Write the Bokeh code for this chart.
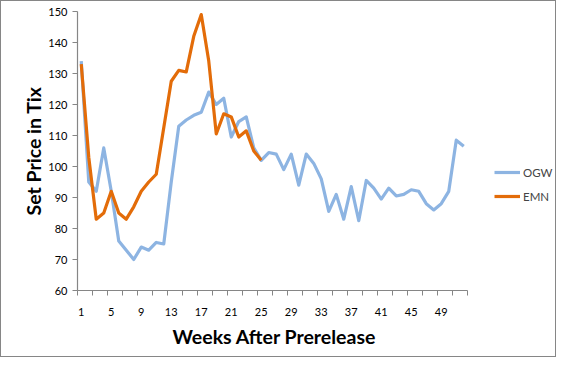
from bokeh.plotting import figure
from bokeh.models import FixedTicker, Range1d, Legend, LegendItem, ColumnDataSource, Title
from bokeh.embed import file_html
from bokeh.resources import INLINE

weeks = list(range(1, 53))
ogw = [134, 95, 92, 106, 92, 76, 73, 70, 74, 73, 75.5, 75, 95, 113, 115, 116.5,
       117.5, 124, 120, 122, 109.5, 114.5, 116, 106, 102, 104.5, 104, 99, 104, 94,
       104, 101, 96, 85.5, 91, 83, 93.5, 82.5, 95.5, 93, 89.5, 93, 90.5, 91, 92.5,
       92, 88, 86, 88, 92, 108.5, 106.5]
emn = [133, 103, 83, 85, 92, 85, 83, 87, 92, 95, 97.5, 112.5, 127.5, 131, 130.5,
       142, 149, 134, 110.5, 117, 116, 109.5, 111.5, 105, 102]
x_labels = [1, 5, 9, 13, 17, 21, 25, 29, 33, 37, 41, 45, 49]
y_ticks = [60, 70, 80, 90, 100, 110, 120, 130, 140, 150]

BLUE = "#8DB4E2"
ORANGE = "#E36C09"
AXIS = "#868686"
FONT = "Lato"

W, H = 556, 357
LEFT, RIGHT, TOP, BOTTOM = 76, 2, 10, 68
PX_PER_WEEK = 7.5
frame_w = W - LEFT - RIGHT
x_end = 0.5 + frame_w / PX_PER_WEEK

p = figure(width=W, height=H, output_backend="svg", toolbar_location=None,
           x_range=Range1d(0.5, x_end), y_range=Range1d(60, 150),
           min_border_left=LEFT, min_border_right=RIGHT, min_border_top=TOP,
           min_border_bottom=BOTTOM)
p.styles = {"border": "1px solid #868686"}
p.outline_line_color = None
p.grid.visible = False
p.background_fill_color = "white"

src_o = ColumnDataSource(dict(x=weeks, y=ogw))
src_e = ColumnDataSource(dict(x=weeks[:len(emn)], y=emn))
r1 = p.line("x", "y", source=src_o, line_color=BLUE, line_width=3.2, line_join="round")
r2 = p.line("x", "y", source=src_e, line_color=ORANGE, line_width=3.2, line_join="round")

bounds = [b + 0.5 for b in range(0, 53, 2)]
p.xaxis.bounds = (0.5, 52.5)
p.xaxis.ticker = FixedTicker(ticks=x_labels, minor_ticks=bounds)
p.xaxis.major_tick_line_color = None
p.xaxis.minor_tick_line_color = AXIS
p.xaxis.minor_tick_out = 5
p.xaxis.minor_tick_in = 0
p.xaxis.major_label_standoff = 11

p.yaxis.ticker = FixedTicker(ticks=y_ticks)
p.yaxis.minor_tick_line_color = None
p.yaxis.major_tick_line_color = AXIS
p.yaxis.major_tick_out = 5
p.yaxis.major_tick_in = 0
p.yaxis.major_label_standoff = 5

for ax in (p.xaxis, p.yaxis):
    ax.axis_line_color = AXIS
    ax.axis_line_width = 1.2
    ax.major_label_text_font = FONT
    ax.major_label_text_font_size = "11px"
    ax.major_label_text_color = "#000000"
    ax.axis_label_text_font = FONT
    ax.axis_label_text_font_style = "bold"
    ax.axis_label_text_font_size = "19.5px"
    ax.axis_label_text_color = "#000000"

p.yaxis.axis_label = "Set Price in Tix"
p.yaxis.axis_label_standoff = 0

xtitle = Title(text="Weeks After Prerelease", align="left", offset=95, standoff=8,
               text_font=FONT, text_font_style="bold", text_font_size="19.5px",
               text_color="#000000")
p.add_layout(xtitle, "below")

legend = Legend(items=[LegendItem(label="OGW", renderers=[r1]),
                       LegendItem(label="EMN", renderers=[r2])],
                location=(417, 84), padding=0, margin=0, spacing=4,
                glyph_width=26, glyph_height=20, label_standoff=3,
                label_text_font=FONT, label_text_font_size="11.5px",
                border_line_color=None, background_fill_alpha=0)
p.add_layout(legend, "center")

open("out.html", "w").write(file_html(p, INLINE))
